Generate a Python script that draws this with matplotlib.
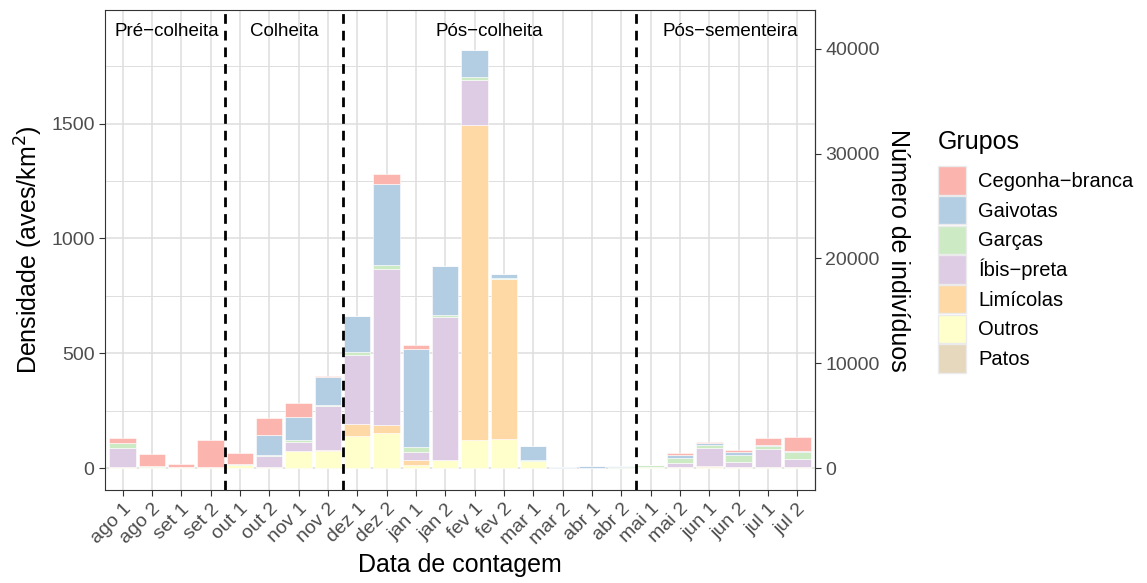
import numpy as np
import matplotlib.pyplot as plt
from matplotlib.patches import Patch
from matplotlib.ticker import MultipleLocator

plt.rcParams['font.family'] = ['Liberation Sans', 'DejaVu Sans']

datas = ['ago 1', 'ago 2', 'set 1', 'set 2', 'out 1', 'out 2', 'nov 1', 'nov 2',
         'dez 1', 'dez 2', 'jan 1', 'jan 2', 'fev 1', 'fev 2', 'mar 1', 'mar 2',
         'abr 1', 'abr 2', 'mai 1', 'mai 2', 'jun 1', 'jun 2', 'jul 1', 'jul 2']

# densidade (aves/km2) por grupo
cegonha = [19, 51, 12, 117, 47, 77, 61, 3, 0, 42, 17, 0, 0, 0, 0, 0, 0, 0, 0, 8, 6, 8, 30, 62]
gaivotas = [0, 0, 0, 0, 0, 85, 100, 123, 157, 355, 426, 211, 119, 21, 61, 3, 8, 1, 0, 15, 9, 16, 4, 4]
garcas = [21, 6, 2, 2, 5, 6, 9, 6, 14, 18, 23, 11, 15, 4, 3, 1, 2, 6, 7, 21, 11, 27, 12, 28]
ibis = [86, 0, 0, 0, 0, 45, 39, 189, 302, 679, 35, 622, 192, 0, 0, 0, 0, 0, 0, 18, 81, 25, 80, 38]
limicolas = [0, 0, 0, 0, 0, 0, 0, 3, 49, 32, 22, 0, 1372, 693, 0, 0, 0, 0, 4, 0, 5, 0, 0, 0]
outros = [4, 4, 5, 3, 13, 7, 75, 77, 142, 155, 14, 36, 124, 129, 31, 0, 0, 1, 3, 4, 4, 4, 4, 4]
patos = [0] * 24

grupos = ['Cegonha\u2212branca', 'Gaivotas', 'Garças', 'Íbis\u2212preta', 'Limícolas', 'Outros', 'Patos']
cores = ['#FBB4AE', '#B3CDE3', '#CCEBC5', '#DECBE4', '#FED9A6', '#FFFFCC', '#E5D8BD']

periodos = ['Pré\u2212colheita', 'Colheita', 'Pós\u2212colheita', 'Pós\u2212sementeira']
periodos_x = [1.5, 5.5, 12.5, 20.7]
limites = [3.5, 7.5, 17.5]

fator = 21.9  # densidade -> número de indivíduos

fig = plt.figure(figsize=(11.47, 5.83), dpi=100)
ax = fig.add_axes([0.0915, 0.1595, 0.619, 0.8235])

x = np.arange(len(datas))
series = [patos, outros, limicolas, ibis, garcas, gaivotas, cegonha]
cores_stack = cores[::-1]
base = np.zeros(len(datas))
for vals, c in zip(series, cores_stack):
    vals = np.array(vals, dtype=float)
    ax.bar(x, vals, bottom=base, width=0.9, color=c, edgecolor='white', linewidth=0.4, zorder=2)
    base += vals

for xl in limites:
    ax.axvline(xl, color='black', linestyle=(0, (3.5, 2.5)), linewidth=2, zorder=3)

for xp, txt in zip(periodos_x, periodos):
    ax.text(xp, 1900, txt, ha='center', va='center', fontsize=13.5, color='black', zorder=4)

ax.set_xlim(-0.6, 23.6)
ax.set_ylim(-95, 1995)
ax.set_xticks(x)
ax.set_xticklabels(datas, rotation=45, ha='right', rotation_mode='anchor', fontsize=14, color='#4D4D4D')
ax.yaxis.set_major_locator(MultipleLocator(500))
ax.yaxis.set_minor_locator(MultipleLocator(250))
ax.tick_params(axis='y', labelsize=14, labelcolor='#4D4D4D', color='#333333', length=4)
ax.tick_params(axis='x', color='#333333', length=4)
ax.tick_params(which='minor', length=0)
ax.grid(True, which='major', color='#DEDEDE', linewidth=1.1, zorder=0)
ax.grid(True, which='minor', axis='y', color='#DEDEDE', linewidth=0.7, zorder=0)
ax.set_axisbelow(True)
for s in ax.spines.values():
    s.set_color('#333333')
    s.set_linewidth(0.8)

ax.set_xlabel('Data de contagem', fontsize=18)
ax.set_ylabel('Densidade (aves/km$^2$)', fontsize=18)

ax2 = ax.secondary_yaxis('right', functions=(lambda d: d * fator, lambda n: n / fator))
ax2.set_yticks([0, 10000, 20000, 30000, 40000])
ax2.tick_params(labelsize=14, labelcolor='#4D4D4D', color='#333333', length=4)
ax2.spines['right'].set_color('#333333')
ax2.set_ylabel('Número de indivíduos', fontsize=18, rotation=270, labelpad=22)

fig.text(938 / 1147, 1 - 142 / 583, 'Grupos', ha='left', va='center', fontsize=18)
handles = [Patch(facecolor=c, edgecolor='#EBEBEB', linewidth=1) for c in cores]
leg = fig.legend(handles, grupos, loc='upper left', bbox_to_anchor=(0.802, 1 - 148 / 583),
                 frameon=False, fontsize=14.5,
                 handlelength=1.4, handleheight=1.8, labelspacing=0.06, handletextpad=0.6)

fig.savefig('out.png', dpi=100)
